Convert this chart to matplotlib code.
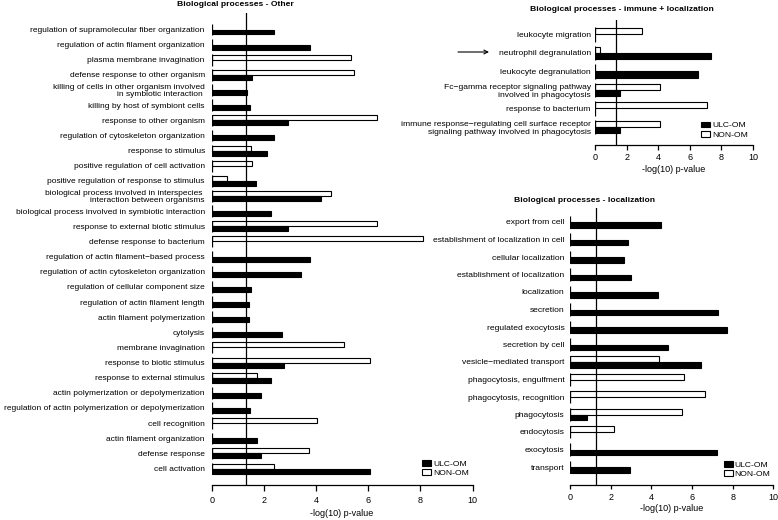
import numpy as np
import matplotlib
matplotlib.use("Agg")
import matplotlib.pyplot as plt
from matplotlib.patches import Patch

plt.rcParams['font.family'] = ['Liberation Sans', 'DejaVu Sans']

# ---------------- data ----------------
other_cats = [
    "regulation of supramolecular fiber organization",
    "regulation of actin filament organization",
    "plasma membrane invagination",
    "defense response to other organism",
    "killing of cells in other organism involved\nin symbiotic interaction ",
    "killing by host of symbiont cells",
    "response to other organism",
    "regulation of cytoskeleton organization",
    "response to stimulus",
    "positive regulation of cell activation",
    "positive regulation of response to stimulus",
    "biological process involved in interspecies \ninteraction between organisms",
    "biological process involved in symbiotic interaction",
    "response to external biotic stimulus",
    "defense response to bacterium",
    "regulation of actin filament\u2212based process",
    "regulation of actin cytoskeleton organization",
    "regulation of cellular component size",
    "regulation of actin filament length",
    "actin filament polymerization",
    "cytolysis",
    "membrane invagination",
    "response to biotic stimulus",
    "response to external stimulus",
    "actin polymerization or depolymerization",
    "regulation of actin polymerization or depolymerization",
    "cell recognition",
    "actin filament organization",
    "defense response",
    "cell activation",
]
nan = np.nan
other_ulc = [2.39, 3.75, nan, 1.56, 1.34, 1.48, 2.94, 2.38, 2.13, nan,
             1.69, 4.18, 2.27, 2.91, nan, 3.77, 3.44, 1.49, 1.44, 1.43,
             2.71, nan, 2.76, 2.27, 1.90, 1.46, nan, 1.72, 1.89, 6.07]
other_non = [nan, nan, 5.33, 5.44, nan, nan, 6.32, nan, 1.52, 1.55,
             0.57, 4.57, nan, 6.32, 8.12, nan, nan, nan, nan, nan,
             nan, 5.08, 6.08, 1.75, nan, nan, 4.02, nan, 3.74, 2.40]

immune_cats = [
    "leukocyte migration",
    "neutrophil degranulation",
    "leukocyte degranulation",
    "Fc\u2212gamma receptor signaling pathway\ninvolved in phagocytosis",
    "response to bacterium",
    "immune response\u2212regulating cell surface receptor\nsignaling pathway involved in phagocytosis",
]
immune_ulc = [nan, 7.36, 6.55, 1.59, nan, 1.59]
immune_non = [3.00, 0.34, nan, 4.14, 7.08, 4.14]

loc_cats = [
    "export from cell",
    "establishment of localization in cell",
    "cellular localization",
    "establishment of localization",
    "localization",
    "secretion",
    "regulated exocytosis",
    "secretion by cell",
    "vesicle\u2212mediated transport",
    "phagocytosis, engulfment",
    "phagocytosis, recognition",
    "phagocytosis",
    "endocytosis",
    "exocytosis",
    "transport",
]
loc_ulc = [4.49, 2.85, 2.67, 2.98, 4.31, 7.30, 7.74, 4.84, 6.44, nan,
           nan, 0.82, nan, 7.25, 2.95]
loc_non = [nan, nan, nan, nan, nan, nan, nan, nan, 4.36, 5.62,
           6.66, 5.52, 2.18, nan, nan]

threshold = 1.3
xticks = [0, 2, 4, 6, 8, 10]
series_labels = ["ULC-OM", "NON-OM"]
xlabel = "-log(10) p-value"

# ---------------- figure ----------------
W, H = 778, 520
fig = plt.figure(figsize=(W / 100, H / 100), dpi=100)
FS = 6.1
FS_TICK = 6.5


def px_axes(x0, x1, y0, y1):
    return fig.add_axes([x0 / W, 1 - y1 / H, (x1 - x0) / W, (y1 - y0) / H])


def panel(ax, cats, ulc, non, row0, step, top_px, bot_px, bar_h, lblpad,
          ticklen, ticklblpad, xlabelpad, lsp, fs):
    n = len(cats)
    ypos = np.arange(n)
    ylo = (top_px - row0) / step
    yhi = (bot_px - row0) / step
    ax.set_ylim(yhi, ylo)
    ax.set_xlim(0, 10)
    ulc = np.asarray(ulc, float)
    non = np.asarray(non, float)
    m = ~np.isnan(non)
    ax.barh(ypos[m] - bar_h / 2, non[m], height=bar_h, color="white",
            edgecolor="black", linewidth=0.8, zorder=2)
    m = ~np.isnan(ulc)
    ax.barh(ypos[m] + bar_h / 2, ulc[m], height=bar_h, color="black",
            edgecolor="black", linewidth=0.8, zorder=2)
    ax.vlines(np.zeros(n), ypos - bar_h - 0.05, ypos + bar_h + 0.05,
              color="black", linewidth=0.9, zorder=3)
    ax.axvline(threshold, color="black", linewidth=0.9, zorder=4)
    for s in ["top", "right", "left"]:
        ax.spines[s].set_visible(False)
    ax.spines["bottom"].set_linewidth(0.9)
    ax.spines["bottom"].set_bounds(0, 10)
    ax.set_yticks(ypos)
    ax.set_yticklabels(cats, fontsize=fs, linespacing=lsp)
    ax.tick_params(axis="y", length=0, pad=lblpad)
    ax.set_xticks(xticks)
    ax.set_xticklabels([str(t) for t in xticks], fontsize=FS_TICK)
    ax.tick_params(axis="x", direction="out", length=ticklen, width=0.9,
                   pad=ticklblpad)
    ax.set_xlabel(xlabel, fontsize=FS_TICK, labelpad=xlabelpad)
    ax.patch.set_visible(False)


def legend(ax, x_px, y_px):
    handles = [Patch(facecolor="black", edgecolor="black", linewidth=0.8),
               Patch(facecolor="white", edgecolor="black", linewidth=0.8)]
    ax.legend(handles, series_labels, loc="upper left",
              bbox_to_anchor=(x_px / W, 1 - y_px / H),
              bbox_transform=fig.transFigure, frameon=False, fontsize=FS,
              borderpad=0, borderaxespad=0, handlelength=1.1,
              handleheight=0.7, handletextpad=0.2, labelspacing=0.15)


# left panel
ax1 = px_axes(211.7, 472.5, 12.7, 484.5)
panel(ax1, other_cats, other_ulc, other_non, 29.5, 15.14, 12.7, 484.5,
      0.33, 5.0, 4.5, 4, 3, 0.9, 6.0)
legend(ax1, 422, 460)
fig.text(235 / W, 1 - 4.8 / H, "Biological processes - Other",
         fontsize=FS, fontweight="bold", ha="center", va="center")

# top right
ax2 = px_axes(595, 753, 20, 145)
panel(ax2, immune_cats, immune_ulc, immune_non, 34.3, 18.5, 20, 145,
      0.34, 3, 3.5, 2.5, 2, 1.25, FS)
legend(ax2, 701, 121.5)
fig.text(621.7 / W, 1 - 9.3 / H, "Biological processes - immune + localization",
         fontsize=FS, fontweight="bold", ha="center", va="center")
ax2.annotate("", xy=(489 / W, 1 - 52 / H), xytext=(458 / W, 1 - 52 / H),
             xycoords="figure fraction", textcoords="figure fraction",
             arrowprops=dict(arrowstyle="->", lw=0.8, mutation_scale=7,
                             shrinkA=0, shrinkB=0))

# bottom right
ax3 = px_axes(570, 773.3, 208, 485)
panel(ax3, loc_cats, loc_ulc, loc_non, 222, 17.5, 208, 485,
      0.32, 4, 3, 2.5, 2, 1.0, FS)
legend(ax3, 723.5, 461)
fig.text(585 / W, 1 - 200 / H, "Biological processes - localization",
         fontsize=FS, fontweight="bold", ha="center", va="center")

fig.savefig("out.png", dpi=100)
